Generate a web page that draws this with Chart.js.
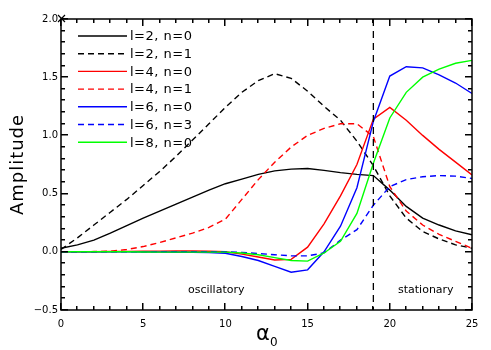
<!DOCTYPE html>
<html>
<head>
<meta charset="utf-8">
<script src="https://cdn.jsdelivr.net/npm/chart.js@4.4.1/dist/chart.umd.min.js"></script>
<style>
  html, body { margin: 0; padding: 0; background: #fff; }
  canvas { display: block; }
</style>
</head>
<body>
<canvas id="amp" width="491" height="350"></canvas>
<script>
// alpha_0 grid and mode amplitudes
const alpha0 = [0,1,2,3,4,5,6,7,8,9,10,11,12,13,14,15,16,17,18,19,20,21,22,23,24,25];

const l2n0 = [0.03,0.06,0.10,0.16,0.225,0.29,0.35,0.41,0.47,0.53,0.585,0.625,0.665,0.695,0.71,0.715,0.70,0.68,0.665,0.655,0.53,0.39,0.29,0.23,0.18,0.146];
const l2n1 = [0.02,0.12,0.23,0.34,0.45,0.57,0.69,0.82,0.96,1.10,1.24,1.37,1.47,1.53,1.49,1.38,1.25,1.13,0.95,0.74,0.48,0.29,0.175,0.11,0.06,0.03];
const l4n0 = [0,0,0,0.002,0.004,0.005,0.006,0.007,0.007,0.005,0.0,-0.02,-0.045,-0.07,-0.065,0.04,0.24,0.48,0.75,1.14,1.24,1.13,1.0,0.88,0.77,0.66];
const l4n1 = [0,0,0.002,0.005,0.02,0.045,0.08,0.12,0.16,0.21,0.28,0.45,0.62,0.77,0.90,1.0,1.06,1.10,1.10,0.99,0.56,0.35,0.23,0.15,0.09,0.03];
const l6n0 = [0,0,0,0,0,-0.002,-0.003,-0.004,-0.005,-0.007,-0.012,-0.04,-0.075,-0.125,-0.175,-0.155,0.0,0.22,0.55,1.12,1.51,1.59,1.58,1.52,1.45,1.36];
const l6n3 = [0,0,0,0,0,0,0,0,0,0,0,-0.005,-0.015,-0.025,-0.035,-0.035,-0.01,0.10,0.19,0.40,0.56,0.62,0.645,0.655,0.65,0.63];
const l8n0 = [0,0,0,0,0,-0.002,-0.003,-0.003,-0.003,-0.003,-0.003,-0.01,-0.025,-0.05,-0.075,-0.08,-0.01,0.09,0.33,0.76,1.15,1.37,1.50,1.57,1.62,1.645];

const seriesNames  = ['l=2, n=0','l=2, n=1','l=4, n=0','l=4, n=1','l=6, n=0','l=6, n=3','l=8, n=0'];
const seriesValues = [l2n0, l2n1, l4n0, l4n1, l6n0, l6n3, l8n0];
const seriesColors = ['#000000','#000000','#ff0000','#ff0000','#0000ff','#0000ff','#00ff00'];
const seriesDashed = [false, true, false, true, false, true, false];

const xTicks = [0,5,10,15,20,25];
const yTicks = [-0.5,0.0,0.5,1.0,1.5,2.0];
const boundary = 19;   // oscillatory / stationary divide

const FONT = '"DejaVu Sans", sans-serif';
const DASH = [6, 4];

let datasets = seriesValues.map((vals, i) => ({
    label: seriesNames[i],
    data: vals.map((v, k) => ({ x: alpha0[k], y: v })),
    borderColor: seriesColors[i],
    borderWidth: 1.4,
    borderDash: seriesDashed[i] ? DASH : [],
    pointRadius: 0,
    tension: 0,
    fill: false,
    order: seriesValues.length - i
}));

function fmtY(v) {
    if (Math.abs(v) < 1e-9) return '0.0';
    return (v < 0 ? '\u2212' : '') + Math.abs(v).toFixed(1);
}

// box, inward ticks, divider, notes, legend, axis titles
const framePlugin = {
    id: 'frame',
    afterDatasetsDraw(chart) {
        let ctx = chart.ctx;
        let sx = chart.scales.x;
        let a = chart.chartArea;
        ctx.save();
        ctx.strokeStyle = '#000';
        ctx.lineWidth = 1.3;
        ctx.setLineDash([7, 5]);
        let bx = sx.getPixelForValue(boundary);
        ctx.beginPath();
        ctx.moveTo(bx, a.top);
        ctx.lineTo(bx, a.bottom);
        ctx.stroke();
        ctx.restore();
    },
    afterDraw(chart) {
        let ctx = chart.ctx;
        let sx = chart.scales.x, sy = chart.scales.y;
        let a = chart.chartArea;
        ctx.save();
        ctx.setLineDash([]);
        ctx.strokeStyle = '#000';
        ctx.fillStyle = '#000';
        ctx.lineWidth = 1.5;
        ctx.strokeRect(a.left, a.top, a.right - a.left, a.bottom - a.top);

        // inward tick marks on all four sides
        for (let i = -5; i <= 20; i++) {
            let py = Math.round(sy.getPixelForValue(i / 10));
            let len = (i % 5 === 0) ? 7 : 4;
            ctx.fillRect(a.left, py - 1, len, 1.5);
            ctx.fillRect(a.right - len, py - 1, len, 1.5);
        }
        for (let i = 0; i <= 25; i++) {
            let px = Math.round(sx.getPixelForValue(i));
            let len = (i % 5 === 0) ? 7 : 4;
            ctx.fillRect(px - 1, a.bottom - len, 1.5, len);
            ctx.fillRect(px - 1, a.top, 1.5, len);
        }

        // little cross at the top-left corner
        ctx.lineWidth = 1.2;
        ctx.beginPath();
        ctx.moveTo(a.left - 3, a.top - 4); ctx.lineTo(a.left + 4, a.top + 3);
        ctx.moveTo(a.left + 4, a.top - 4); ctx.lineTo(a.left - 3, a.top + 3);
        ctx.stroke();

        // regime notes
        ctx.font = '11px ' + FONT;
        ctx.textBaseline = 'middle';
        ctx.textAlign = 'left';
        ctx.fillText('oscillatory', 188, 290);
        ctx.fillText('stationary', 398, 290);

        // legend
        ctx.font = '13px ' + FONT;
        ctx.letterSpacing = '0.5px';
        chart.data.datasets.forEach((ds, i) => {
            let ly = 36 + i * 17.7;
            ctx.strokeStyle = ds.borderColor;
            ctx.lineWidth = 1.4;
            ctx.setLineDash(ds.borderDash);
            ctx.beginPath();
            ctx.moveTo(78, ly); ctx.lineTo(127, ly);
            ctx.stroke();
            ctx.setLineDash([]);
            ctx.fillText(ds.label, 130, ly + 1);
        });

        // axis titles
        ctx.letterSpacing = '1px';
        ctx.font = '18px ' + FONT;
        ctx.textAlign = 'center';
        ctx.save();
        ctx.translate(18, (a.top + a.bottom) / 2);
        ctx.rotate(-Math.PI / 2);
        ctx.fillText('Amplitude', 0, 0);
        ctx.restore();

        ctx.letterSpacing = '0px';
        ctx.textAlign = 'left';
        ctx.textBaseline = 'alphabetic';
        ctx.font = '21px ' + FONT;
        ctx.fillText('\u03b1', 256, 340);
        ctx.font = '12px ' + FONT;
        ctx.fillText('0', 270, 346);
        ctx.restore();
    }
};

new Chart(document.getElementById('amp').getContext('2d'), {
    type: 'line',
    data: { datasets: datasets },
    options: {
        responsive: false,
        animation: false,
        layout: { padding: { top: 19, right: 19, left: 0, bottom: 0 } },
        plugins: { legend: { display: false }, tooltip: { enabled: false } },
        scales: {
            x: {
                type: 'linear', min: 0, max: 25,
                grid: { display: false, drawTicks: false },
                border: { display: false },
                afterBuildTicks: s => { s.ticks = xTicks.map(v => ({ value: v })); },
                afterFit: s => { s.height = 40; },
                ticks: { color: '#000', font: { family: FONT, size: 10 }, padding: 8, maxRotation: 0,
                         callback: v => String(v) }
            },
            y: {
                type: 'linear', min: -0.5, max: 2.0,
                grid: { display: false, drawTicks: false },
                border: { display: false },
                afterBuildTicks: s => { s.ticks = yTicks.map(v => ({ value: v })); },
                afterFit: s => { s.width = 61; },
                ticks: { color: '#000', font: { family: FONT, size: 10 }, padding: 3,
                         callback: v => fmtY(v) }
            }
        }
    },
    plugins: [framePlugin]
});
</script>
</body>
</html>
